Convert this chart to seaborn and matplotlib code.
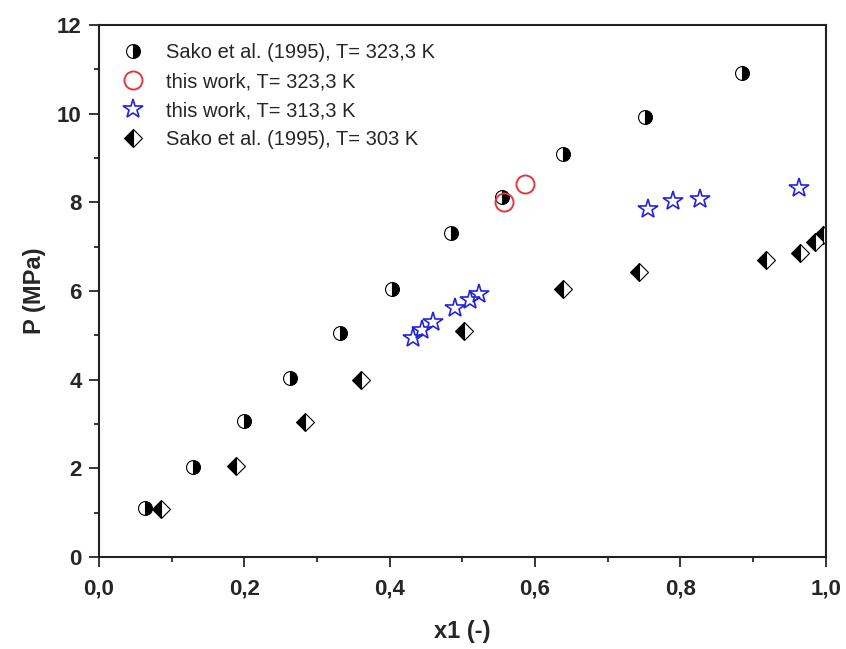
import numpy as np
import pandas as pd
import seaborn as sns
import matplotlib.pyplot as plt
from matplotlib.ticker import MultipleLocator, FormatStrFormatter

# Sako et al. (1995), T = 323,3 K
sako323_x = [0.063, 0.129, 0.1995, 0.263, 0.3315, 0.403, 0.485, 0.554, 0.638, 0.752, 0.885]
sako323_p = [1.10, 2.02, 3.07, 4.03, 5.05, 6.05, 7.30, 8.13, 9.09, 9.92, 10.91]

# this work, T = 323,3 K
work323_x = [0.5575, 0.586]
work323_p = [8.00, 8.41]

# this work, T = 313,3 K
work313_x = [0.432, 0.445, 0.460, 0.490, 0.511, 0.523, 0.756, 0.790, 0.827, 0.963]
work313_p = [4.93, 5.12, 5.29, 5.62, 5.80, 5.93, 7.84, 8.02, 8.07, 8.32]

# Sako et al. (1995), T = 303 K
sako303_x = [0.086, 0.188, 0.284, 0.360, 0.5025, 0.638, 0.743, 0.918, 0.964, 0.985, 0.996]
sako303_p = [1.08, 2.04, 3.05, 3.99, 5.10, 6.04, 6.42, 6.70, 6.86, 7.11, 7.26]

labels = ["Sako et al. (1995), T= 323,3 K", "this work, T= 323,3 K",
          "this work, T= 313,3 K", "Sako et al. (1995), T= 303 K"]

sns.set_style("ticks")
plt.rcParams['font.family'] = ['Liberation Sans', 'DejaVu Sans']

fig = plt.figure(figsize=(8.46, 6.49), dpi=100)
ax = fig.add_axes([0.117, 0.142, 0.859, 0.8195])

common = dict(linestyle='none', estimator=None, sort=False, ax=ax)

sns.lineplot(x=sako323_x, y=sako323_p, marker='o', markersize=10, fillstyle='right',
             color='black', markerfacecolor='black', markerfacecoloralt='white',
             markeredgecolor='black', markeredgewidth=0.8, label=labels[0], **common)
sns.lineplot(x=work323_x, y=work323_p, marker='o', markersize=13, fillstyle='none',
             color='#e0393e', markeredgecolor='#e0393e', markeredgewidth=1.4,
             label=labels[1], **common)
sns.lineplot(x=work313_x, y=work313_p, marker='*', markersize=15, fillstyle='none',
             color='#2424d8', markeredgecolor='#2424d8', markeredgewidth=1.2,
             label=labels[2], **common)
sns.lineplot(x=sako303_x, y=sako303_p, marker='D', markersize=9, fillstyle='left',
             color='black', markerfacecolor='black', markerfacecoloralt='white',
             markeredgecolor='black', markeredgewidth=0.8, label=labels[3], **common)

ax.set_xlim(0, 1.0)
ax.set_ylim(0, 12)
ax.xaxis.set_major_locator(MultipleLocator(0.2))
ax.xaxis.set_minor_locator(MultipleLocator(0.1))
ax.yaxis.set_major_locator(MultipleLocator(2))
ax.yaxis.set_minor_locator(MultipleLocator(1))
ax.xaxis.set_major_formatter(FormatStrFormatter('%.1f'))
ax.set_xticklabels([t.replace('.', ',') for t in ['%.1f' % v for v in ax.get_xticks()]])

ax.tick_params(which='major', direction='out', length=7.5, width=1.3, labelsize=16)
ax.tick_params(which='minor', direction='out', length=3.5, width=1.3)
ax.tick_params(axis='x', which='major', pad=8)
ax.tick_params(axis='y', which='major', pad=5)
for lab in ax.get_xticklabels() + ax.get_yticklabels():
    lab.set_fontweight('bold')
for sp in ax.spines.values():
    sp.set_linewidth(1.5)
    sp.set_color('#222222')

ax.set_xlabel("x1 (-)", fontsize=17, fontweight='bold', labelpad=15)
ax.set_ylabel("P (MPa)", fontsize=17, fontweight='bold', labelpad=8)

leg = ax.legend(loc='upper left', frameon=False, fontsize=14.5, handletextpad=0.85,
                labelspacing=0.5, borderaxespad=0.5, handlelength=1.6)

fig.savefig("out.png", dpi=100)
